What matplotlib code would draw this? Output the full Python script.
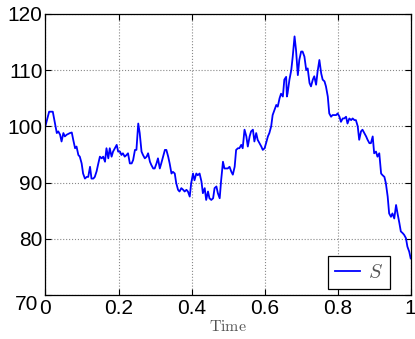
import numpy as np
import matplotlib
matplotlib.use('Agg')
import matplotlib.pyplot as plt
from matplotlib.transforms import ScaledTranslation

plt.rcParams['font.family'] = ['Liberation Sans', 'DejaVu Sans']
plt.rcParams['mathtext.fontset'] = 'cm'

# simulated price path S(t)
time = [0.000, 0.010, 0.020, 0.026, 0.031, 0.035, 0.040, 0.044, 0.049, 0.053,
        0.058, 0.067, 0.072, 0.076, 0.081, 0.085, 0.090, 0.094, 0.099, 0.103,
        0.108, 0.113, 0.117, 0.122, 0.126, 0.131, 0.135, 0.140, 0.144, 0.149,
        0.154, 0.158, 0.163, 0.167, 0.172, 0.176, 0.181, 0.185, 0.190, 0.195,
        0.199, 0.204, 0.208, 0.212, 0.217, 0.222, 0.226, 0.231, 0.236, 0.240,
        0.245, 0.249, 0.254, 0.258, 0.263, 0.267, 0.272, 0.277, 0.281, 0.286,
        0.290, 0.295, 0.299, 0.304, 0.308, 0.313, 0.317, 0.322, 0.327, 0.331,
        0.336, 0.340, 0.345, 0.349, 0.354, 0.358, 0.363, 0.367, 0.372, 0.377,
        0.381, 0.386, 0.390, 0.395, 0.399, 0.404, 0.408, 0.413, 0.417, 0.422,
        0.427, 0.431, 0.436, 0.440, 0.445, 0.449, 0.454, 0.459, 0.463, 0.468,
        0.472, 0.477, 0.481, 0.486, 0.490, 0.495, 0.499, 0.504, 0.509, 0.513,
        0.518, 0.522, 0.527, 0.531, 0.536, 0.540, 0.545, 0.550, 0.554, 0.559,
        0.563, 0.568, 0.572, 0.577, 0.581, 0.586, 0.591, 0.595, 0.600, 0.604,
        0.609, 0.613, 0.618, 0.622, 0.627, 0.632, 0.636, 0.641, 0.645, 0.650,
        0.654, 0.659, 0.661, 0.663, 0.668, 0.673, 0.677, 0.682, 0.686, 0.691,
        0.695, 0.700, 0.704, 0.709, 0.714, 0.718, 0.723, 0.727, 0.732, 0.736,
        0.741, 0.745, 0.750, 0.755, 0.759, 0.764, 0.768, 0.773, 0.777, 0.782,
        0.786, 0.791, 0.796, 0.800, 0.805, 0.809, 0.814, 0.818, 0.823, 0.827,
        0.832, 0.837, 0.841, 0.846, 0.850, 0.855, 0.859, 0.864, 0.868, 0.873,
        0.878, 0.882, 0.887, 0.891, 0.896, 0.900, 0.905, 0.909, 0.914, 0.919,
        0.923, 0.928, 0.932, 0.937, 0.941, 0.946, 0.950, 0.955, 0.960, 0.964,
        0.969, 0.973, 0.978, 0.982, 0.987, 0.991, 0.996, 1.000]
price = [100.1, 102.6, 102.6, 100.5, 98.8, 99.1, 98.5, 97.3, 98.8, 98.2,
         98.5, 98.8, 98.9, 97.6, 96.1, 96.4, 94.9, 94.6, 93.4, 91.6,
         90.7, 91.0, 91.0, 92.8, 90.7, 90.7, 91.0, 92.0, 93.2, 94.6,
         94.3, 94.6, 93.7, 96.1, 94.3, 96.1, 94.6, 95.5, 96.1, 96.7,
         95.5, 95.5, 94.9, 95.2, 94.6, 94.9, 95.2, 93.4, 93.4, 94.0,
         95.8, 95.8, 100.5, 98.8, 95.5, 94.9, 94.3, 94.6, 95.2, 93.7,
         93.1, 92.5, 92.5, 93.4, 94.3, 92.5, 93.4, 94.6, 95.8, 95.8,
         94.6, 93.4, 91.6, 91.9, 91.6, 89.9, 88.7, 88.4, 89.0, 88.7,
         88.4, 88.7, 88.4, 87.5, 89.9, 91.6, 90.4, 91.6, 91.3, 91.6,
         90.2, 88.1, 89.0, 86.9, 88.4, 87.2, 86.9, 87.2, 89.0, 89.3,
         88.1, 87.2, 90.4, 93.7, 92.5, 92.5, 92.5, 92.8, 91.9, 91.4,
         92.8, 95.8, 96.1, 96.1, 96.7, 96.1, 99.4, 98.2, 96.4, 98.2,
         99.1, 99.4, 97.3, 98.8, 97.6, 97.0, 96.4, 95.8, 96.1, 97.0,
         98.2, 98.8, 100.0, 102.0, 102.9, 103.8, 103.5, 105.0, 105.8, 105.3,
         108.3, 108.8, 105.3, 105.9, 108.3, 110.0, 112.4, 116.0, 113.6, 109.1,
         111.8, 113.3, 113.3, 112.4, 110.0, 110.3, 107.7, 107.1, 108.3, 108.9,
         107.4, 109.7, 111.8, 109.4, 108.3, 108.0, 107.1, 105.3, 102.3, 101.7,
         102.0, 102.0, 102.0, 102.3, 101.7, 100.8, 101.4, 101.4, 101.7, 100.5,
         101.4, 101.1, 101.4, 101.1, 101.1, 100.0, 97.6, 99.1, 99.4, 98.8,
         98.2, 97.6, 97.0, 97.0, 98.2, 95.2, 95.5, 94.6, 95.2, 91.6,
         91.3, 91.0, 89.9, 87.5, 84.5, 83.9, 84.5, 83.6, 86.0, 84.5,
         82.8, 81.3, 81.0, 80.7, 80.1, 78.6, 77.7, 76.5]

x_ticks = [0, 0.2, 0.4, 0.6, 0.8, 1]
x_ticklabels = ['0', '0.2', '0.4', '0.6', '0.8', '1']
y_ticks = [70, 80, 90, 100, 110, 120]

fig = plt.figure(figsize=(4.15, 3.39), dpi=100)
ax = fig.add_axes([0.1096, 0.130, 0.880, 0.829])

ax.plot(time, price, color='#0000ff', linewidth=1.3, label=r'$S$')

ax.set_xlim(0, 1)
ax.set_ylim(70, 120)
ax.set_xticks(x_ticks)
ax.set_xticklabels(x_ticklabels)
ax.set_yticks(y_ticks)
ax.tick_params(direction='in', length=4, labelsize=15, colors='black')
ax.tick_params(axis='x', pad=3)
ax.tick_params(axis='y', pad=2)
ax.tick_params(top=True, right=True)
ax.grid(True, linestyle=':', color='#888888', linewidth=0.8)
for spine in ax.spines.values():
    spine.set_linewidth(0.9)

# bottom y label sits lower, beside the x origin label
lbl70 = ax.get_yticklabels()[0]
lbl70.set_transform(lbl70.get_transform() +
                    ScaledTranslation(-0.04, -0.08, fig.dpi_scale_trans))

ax.set_xlabel(r'$\mathrm{Time}$', fontsize=11.5, color='#555555', labelpad=1)

leg = ax.legend(loc='lower right', bbox_to_anchor=(0.9445, 0.020),
                borderaxespad=0, fancybox=False, framealpha=1,
                edgecolor='black', fontsize=14.5, handlelength=1.25,
                handletextpad=0.4, borderpad=0.35)
leg.get_frame().set_linewidth(0.9)
for txt in leg.get_texts():
    txt.set_color('#555555')

fig.savefig('out.png', dpi=100)
